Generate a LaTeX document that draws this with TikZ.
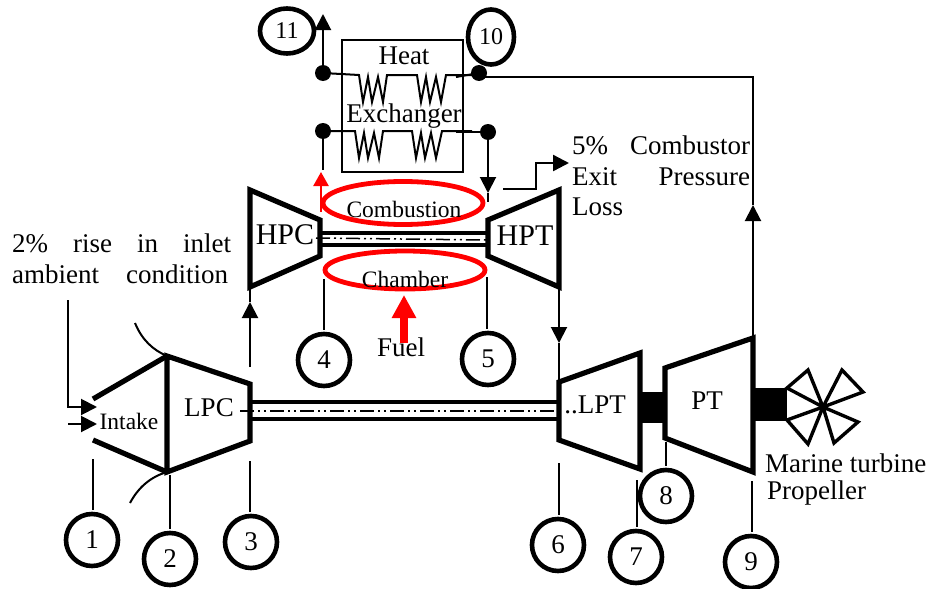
\documentclass[tikz,border=0pt]{standalone}
\usepackage{fontspec}
\setmainfont{Liberation Serif}
\usetikzlibrary{arrows.meta,shapes.geometric}

\begin{document}
\begin{tikzpicture}[
    x=1pt, y=-1pt,
    bigtext/.style={font=\fontsize{27}{30.5}\selectfont, inner sep=0pt},
    smalltext/.style={font=\fontsize{23.5}{24}\selectfont, inner sep=0pt},
    stationnum/.style={circle, draw=black, line width=4.6pt, minimum size=52pt, inner sep=0pt, font=\fontsize{27}{30}\selectfont},
    stationoval/.style={ellipse, draw=black, line width=4.6pt, inner sep=0pt, font=\fontsize{24}{24}\selectfont},
    leader/.style={line width=2pt, shorten >=2pt},
    pipe/.style={line width=2pt},
    pipearrow/.style={line width=2pt, -{Triangle[length=16pt,width=16pt]}},
    machine/.style={line width=5.2pt, line join=miter},
    shaft/.style={line width=4pt},
    centerline/.style={line width=1.5pt, dash pattern=on 14pt off 4pt on 2pt off 4pt on 2pt off 4pt},
    coil/.style={line width=2pt, line join=miter},
    joint/.style={circle, fill=black, minimum size=16pt, inner sep=0pt},
    flame/.style={ellipse, draw=red, line width=4.8pt, inner sep=0pt},
    block/.style={fill=black, draw=none}
    ]
    \useasboundingbox (0,0) rectangle (935,589);

    % corners
    \coordinate (inlettop) at (93,399);
    \coordinate (inletbot) at (93,440);
    \coordinate (lpca) at (167,356);
    \coordinate (lpcb) at (250,384);
    \coordinate (lpcc) at (250,441);
    \coordinate (lpcd) at (167,472);
    \coordinate (hpca) at (250,190);
    \coordinate (hpcb) at (320,220);
    \coordinate (hpcc) at (320,256);
    \coordinate (hpcd) at (250,287);
    \coordinate (hpta) at (559,190);
    \coordinate (hptb) at (488,220);
    \coordinate (hptc) at (488,256);
    \coordinate (hptd) at (559,287);
    \coordinate (lpta) at (559,382);
    \coordinate (lptb) at (640,353);
    \coordinate (lptc) at (640,469);
    \coordinate (lptd) at (559,440);
    \coordinate (pta) at (665,368);
    \coordinate (ptb) at (753,338);
    \coordinate (ptc) at (753,472);
    \coordinate (ptd) at (665,438);
    \coordinate (hub) at (823,407);

    % machines
    \draw[machine] (inlettop) -- (lpca);
    \draw[machine] (inletbot) -- (lpcd);
    \draw[machine] (lpca) -- (lpcb) -- (lpcc) -- (lpcd) -- cycle;
    \draw[machine] (hpca) -- (hpcb) -- (hpcc) -- (hpcd) -- cycle;
    \draw[machine] (hpta) -- (hptb) -- (hptc) -- (hptd) -- cycle;
    \draw[machine] (lpta) -- (lptb) -- (lptc) -- (lptd) -- cycle;
    \draw[machine] (pta) -- (ptb) -- (ptc) -- (ptd) -- cycle;
    \draw[pipe] (135,323) .. controls (142,340) and (153,350) .. (lpca);
    \draw[pipe] (130,503) .. controls (138,488) and (150,477) .. (lpcd);

    % shafts
    \draw[shaft] (320,233) -- (488,233);
    \draw[shaft] (320,245) -- (488,245);
    \draw[centerline] (316,238) -- (486,240);
    \draw[shaft] (250,402) -- (558,402);
    \draw[shaft] (250,419) -- (558,419);
    \draw[centerline] (240,411) -- (556,411);
    \fill[block] (642,392) rectangle (665,423);
    \fill[block] (753,388) rectangle (787,421);

    % propeller
    \draw[line width=3.4pt, line join=miter] (hub) -- (787,388) -- (808,370) -- cycle;
    \draw[line width=3.4pt, line join=miter] (hub) -- (842,370) -- (863,392) -- cycle;
    \draw[line width=3.4pt, line join=miter] (hub) -- (858,422) -- (834,443) -- cycle;
    \draw[line width=3.4pt, line join=miter] (hub) -- (808,444) -- (787,420) -- cycle;

    % heat exchanger
    \node[draw=black, line width=2.6pt, minimum width=121pt, minimum height=132pt, inner sep=0pt] (heatbox) at (402.5,106) {};
    \node[joint] (jointa) at (323,73) {};
    \node[joint] (jointb) at (479,73) {};
    \node[joint] (jointc) at (323,131) {};
    \node[joint] (jointd) at (488,132) {};
    \draw[coil] (jointa) -- (359,75) -- (363,102) -- (368,77) -- (372,102) -- (378,77) -- (383,102) -- (387,75) -- (417,75)
        -- (421,102) -- (426,77) -- (430,102) -- (436,77) -- (441,102) -- (446,75) -- (473,75);
    \draw[coil] (456,77) -- (jointb);
    \draw[coil] (jointc) -- (355,131) -- (359,158) -- (364,133) -- (368,158) -- (374,133) -- (379,158) -- (383,131) -- (412,131)
        -- (416,158) -- (421,133) -- (425,158) -- (431,133) -- (436,158) -- (442,131) -- (472,131);
    \draw[coil] (456,132) -- (jointd);
    \node[bigtext] (heattext) at (404,56) {Heat};
    \node[bigtext] (exchtext) at (404,116) {Exchanger};

    % combustor
    \node[flame, minimum width=160pt, minimum height=43pt] (combtop) at (403,203) {};
    \node[flame, minimum width=160pt, minimum height=38pt] (combbot) at (405,270) {};
    \node[smalltext] (combustion) at (404,209) {Combustion};
    \node[smalltext] (chamber) at (405,279) {Chamber};
    \node[bigtext] (fuel) at (401,347) {Fuel};
    \coordinate (fuelin) at (404,343);
    \draw[red, line width=8pt, -{Triangle[length=23pt,width=23pt]}] (fuelin) -- (404,295);
    \coordinate (redin) at (321,212);
    \draw[red, line width=2.4pt, -{Triangle[length=14pt,width=15pt]}] (redin) -- (321,172);

    % gas path
    \coordinate (tophc) at (323,170);
    \coordinate (arrowd) at (488,193);
    \coordinate (endd) at (488,202);
    \coordinate (lpcout) at (250,367);
    \coordinate (lpcfoot) at (250,380);
    \coordinate (arrowhpc) at (250,302);
    \coordinate (arrowlpt) at (559,343);
    \coordinate (arrowpt) at (753,205);
    \coordinate (elbow) at (753,77);
    \coordinate (exit) at (323,14);
    \draw[pipe] (jointc) -- (tophc);
    \draw[pipearrow] (jointa) -- (exit);
    \draw[pipearrow] (jointd) -- (arrowd);
    \draw[pipe] (arrowd) -- (endd);
    \draw[pipe] (jointb |- elbow) -- (elbow) -- (arrowpt);
    \draw[pipearrow] (ptb) -- (arrowpt);
    \draw[pipearrow] (lpcout) -- (arrowhpc);
    \draw[pipe] (arrowhpc) -- (hpcd);
    \draw[pipearrow] (hptd) -- (arrowlpt);
    \draw[pipe] (arrowlpt) -- (lpta);
    \draw[pipearrow, line width=2.4pt] (503,189) -- (536,189) -- (536,163) -- (569,163);

    % intake arrows
    \coordinate (risestart) at (68,300);
    \coordinate (riseelbow) at (68,407);
    \coordinate (risetip) at (97,407);
    \coordinate (airstart) at (68,424);
    \coordinate (airtip) at (97,424);
    \draw[pipearrow] (risestart) -- (riseelbow) -- (risetip);
    \draw[pipearrow] (airstart) -- (airtip);

    % labels
    \node[bigtext] (lpctext) at (209,408) {LPC};
    \node[smalltext] (intake) at (129,421) {Intake};
    \node[bigtext, font=\fontsize{30}{30}\selectfont] (hpctext) at (285,235) {HPC};
    \node[bigtext, font=\fontsize{30}{30}\selectfont] (hpttext) at (525,236) {HPT};
    \node[bigtext] (lpttext) at (595,405) {..LPT};
    \node[bigtext] (pttext) at (707,401) {PT};
    \node[bigtext, anchor=west] (marine) at (765,463) {Marine turbine};
    \node[bigtext, anchor=west] (propeller) at (767,493) {Propeller};
    \node[bigtext, align=left, anchor=north west] (risetext) at (12,234) {\makebox[219pt][s]{2\% rise in inlet}\\\makebox[216pt][s]{ambient condition}};
    \node[bigtext, align=left, anchor=north west] (losstext) at (572,136) {\makebox[178pt][s]{5\% Combustor}\\\makebox[178pt][s]{Exit Pressure}\\Loss};

    % station numbers
    \node[stationnum] (one) at (92,540) {1};
    \node[stationnum] (two) at (170,559) {2};
    \node[stationnum] (three) at (251,542) {3};
    \node[stationnum] (four) at (324,360) {4};
    \node[stationnum] (five) at (488,359) {5};
    \node[stationnum] (six) at (558,545) {6};
    \node[stationnum] (seven) at (636,557) {7};
    \node[stationnum] (eight) at (666,496) {8};
    \node[stationnum] (nine) at (751,562) {9};
    \node[stationoval, minimum width=54pt, minimum height=45pt] (eleven) at (287,31) {11};
    \node[stationoval, minimum width=46pt, minimum height=55pt] (ten) at (491,37) {10};

    \coordinate (tapone) at (93,459);
    \coordinate (taptwo) at (170,475);
    \coordinate (tapthree) at (250,461);
    \coordinate (tapfour) at (324,279);
    \coordinate (tapfive) at (487,277);
    \coordinate (tapsix) at (559,463);
    \coordinate (tapseven) at (637,480);
    \coordinate (tapeight) at (666,442);
    \coordinate (tapnine) at (752,481);
    \draw[leader] (tapone) -- (tapone |- one.north);
    \draw[leader] (taptwo) -- (taptwo |- two.north);
    \draw[leader] (tapthree) -- (tapthree |- three.north);
    \draw[leader] (tapfour) -- (tapfour |- four.north);
    \draw[leader] (tapfive) -- (tapfive |- five.north);
    \draw[leader] (tapsix) -- (tapsix |- six.north);
    \draw[leader] (tapseven) -- (tapseven |- seven.north);
    \draw[leader] (tapeight) -- (tapeight |- eight.north);
    \draw[leader] (tapnine) -- (tapnine |- nine.north);

\end{tikzpicture}
\end{document}
